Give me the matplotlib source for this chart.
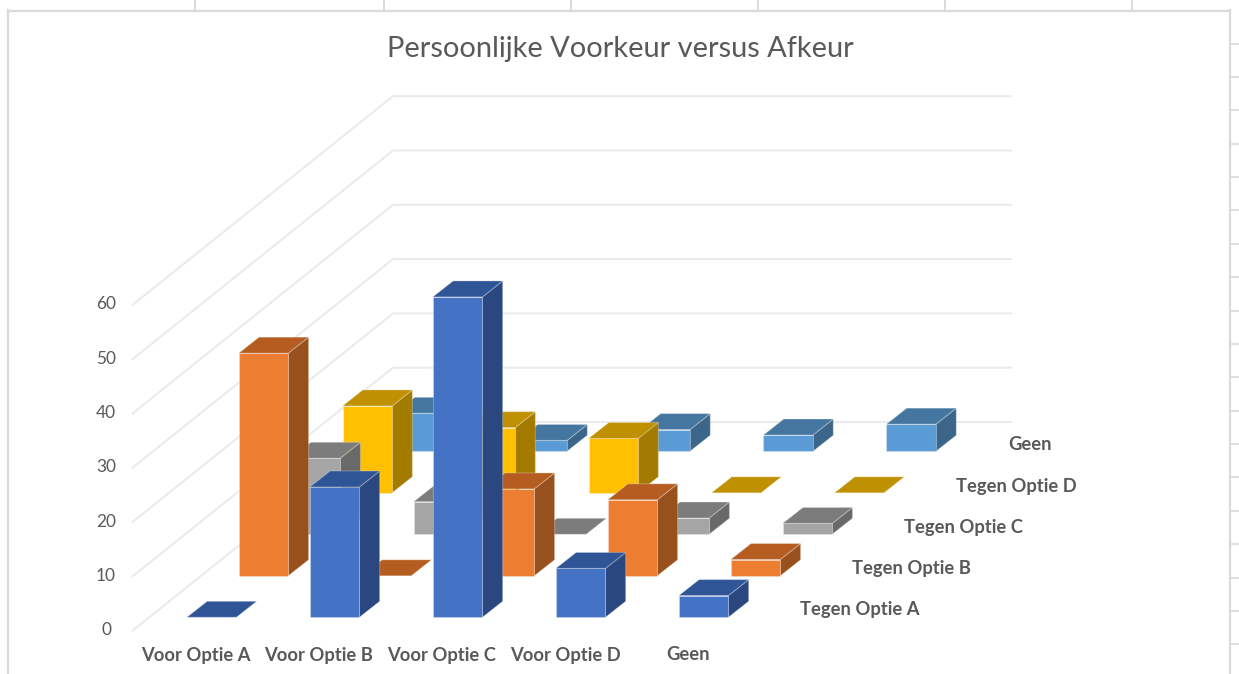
import matplotlib

matplotlib.use("Agg")
import matplotlib.pyplot as plt
from matplotlib.patches import Polygon

plt.rcParams["font.family"] = ["Lato", "DejaVu Sans"]

categories = ["Voor Optie A", "Voor Optie B", "Voor Optie C", "Voor Optie D", "Geen"]
series_names = ["Tegen Optie A", "Tegen Optie B", "Tegen Optie C", "Tegen Optie D", "Geen"]
axis_ticks = [0, 10, 20, 30, 40, 50, 60]

tegen_a = [0, 24, 59, 9, 4]
tegen_b = [41, 0, 16, 14, 3]
tegen_c = [14, 6, 0, 3, 2]
tegen_d = [16, 12, 10, 0, 0]
geen = [7, 2, 4, 3, 5]
series_values = [tegen_a, tegen_b, tegen_c, tegen_d, geen]

# front, top, side
series_colors = [
    ("#4472C4", "#2F5597", "#2A4780"),
    ("#ED7D31", "#B55C20", "#98501C"),
    ("#A5A5A5", "#7C7C7C", "#696969"),
    ("#FFC000", "#BF9000", "#A37B00"),
    ("#5B9BD5", "#4476A0", "#3B6689"),
]

TEXT = "#595959"
GRID = "#EAEAEA"
SHEET = "#DADADA"

# oblique projection, everything in picture pixels
BAR_X0, BAR_Y0 = 186.8, 617.3
COL_DX = 123.0
ROW_DX, ROW_DY = 51.9, -41.5
BAR_W = 49.6
DEPTH_DX, DEPTH_DY = 20.3, -16.0
UNIT = 5.43
WALL_X0, WALL_Y0 = 132.5, 630.7
WALL_DX, WALL_DY = 260.5, -208.7
WALL_X1 = 1011


def draw_bar(ax, col, row, value, colors):
    x = BAR_X0 + col * COL_DX + row * ROW_DX
    y = BAR_Y0 + row * ROW_DY
    top = y - value * UNIT
    front, lid, side = colors
    edge = dict(edgecolor=(1, 1, 1, 0.25), linewidth=0.8, joinstyle="round", zorder=3)
    if value > 0:
        ax.add_patch(Polygon(
            [(x + BAR_W, y), (x + BAR_W + DEPTH_DX, y + DEPTH_DY),
             (x + BAR_W + DEPTH_DX, top + DEPTH_DY), (x + BAR_W, top)],
            facecolor=side, **edge))
        ax.add_patch(Polygon(
            [(x, y), (x + BAR_W, y), (x + BAR_W, top), (x, top)],
            facecolor=front, **edge))
    ax.add_patch(Polygon(
        [(x, top), (x + BAR_W, top), (x + BAR_W + DEPTH_DX, top + DEPTH_DY),
         (x + DEPTH_DX, top + DEPTH_DY)],
        facecolor=lid, **edge))


fig = plt.figure(figsize=(12.39, 6.74), dpi=100)
ax = fig.add_axes([0, 0, 1, 1])
ax.set_xlim(0, 1239)
ax.set_ylim(674, 0)
ax.axis("off")

# spreadsheet cells around the chart
ax.plot([7.5, 7.5], [10, 674], color=SHEET, lw=1.6, zorder=1)
ax.plot([1229.5, 1229.5], [10, 674], color=SHEET, lw=1.6, zorder=1)
ax.plot([7.5, 1229.5], [10.5, 10.5], color=SHEET, lw=1.6, zorder=1)
for x in [195, 384, 571, 758, 945, 1132]:
    ax.plot([x, x], [0, 10], color=SHEET, lw=1.4, zorder=1)
for i in range(19):
    y = 43.5 + i * 33.38
    ax.plot([1230, 1239], [y, y], color=SHEET, lw=1.2, zorder=1)

# walls
for tick in axis_ticks:
    y_front = WALL_Y0 - tick * UNIT
    y_back = y_front + WALL_DY
    ax.plot([WALL_X0, WALL_X0 + WALL_DX, WALL_X1], [y_front, y_back, y_back],
            color=GRID, lw=1.4, solid_joinstyle="round", zorder=1)
    ax.text(106, y_front - 0.5, str(tick), ha="center", va="center",
            fontsize=12.4, color=TEXT, zorder=4)

# back row first so the front rows cover it
for row in reversed(range(len(series_values))):
    for col, value in enumerate(series_values[row]):
        draw_bar(ax, col, row, value, series_colors[row])

ax.text(620, 49.5, "Persoonlijke Voorkeur versus Afkeur", ha="center", va="center",
        fontsize=20.9, color=TEXT, zorder=4)

for col, name in enumerate(categories):
    ax.text(196 + col * COL_DX, 655, name, ha="center", va="center",
            fontsize=13.2, fontweight="bold", color=TEXT, zorder=4)
for row, name in enumerate(series_names):
    ax.text(800 + row * 52, 610 - row * 41.3, name, ha="left", va="center",
            fontsize=13.2, fontweight="bold", color=TEXT, zorder=4)

fig.savefig("out.png", dpi=100)
